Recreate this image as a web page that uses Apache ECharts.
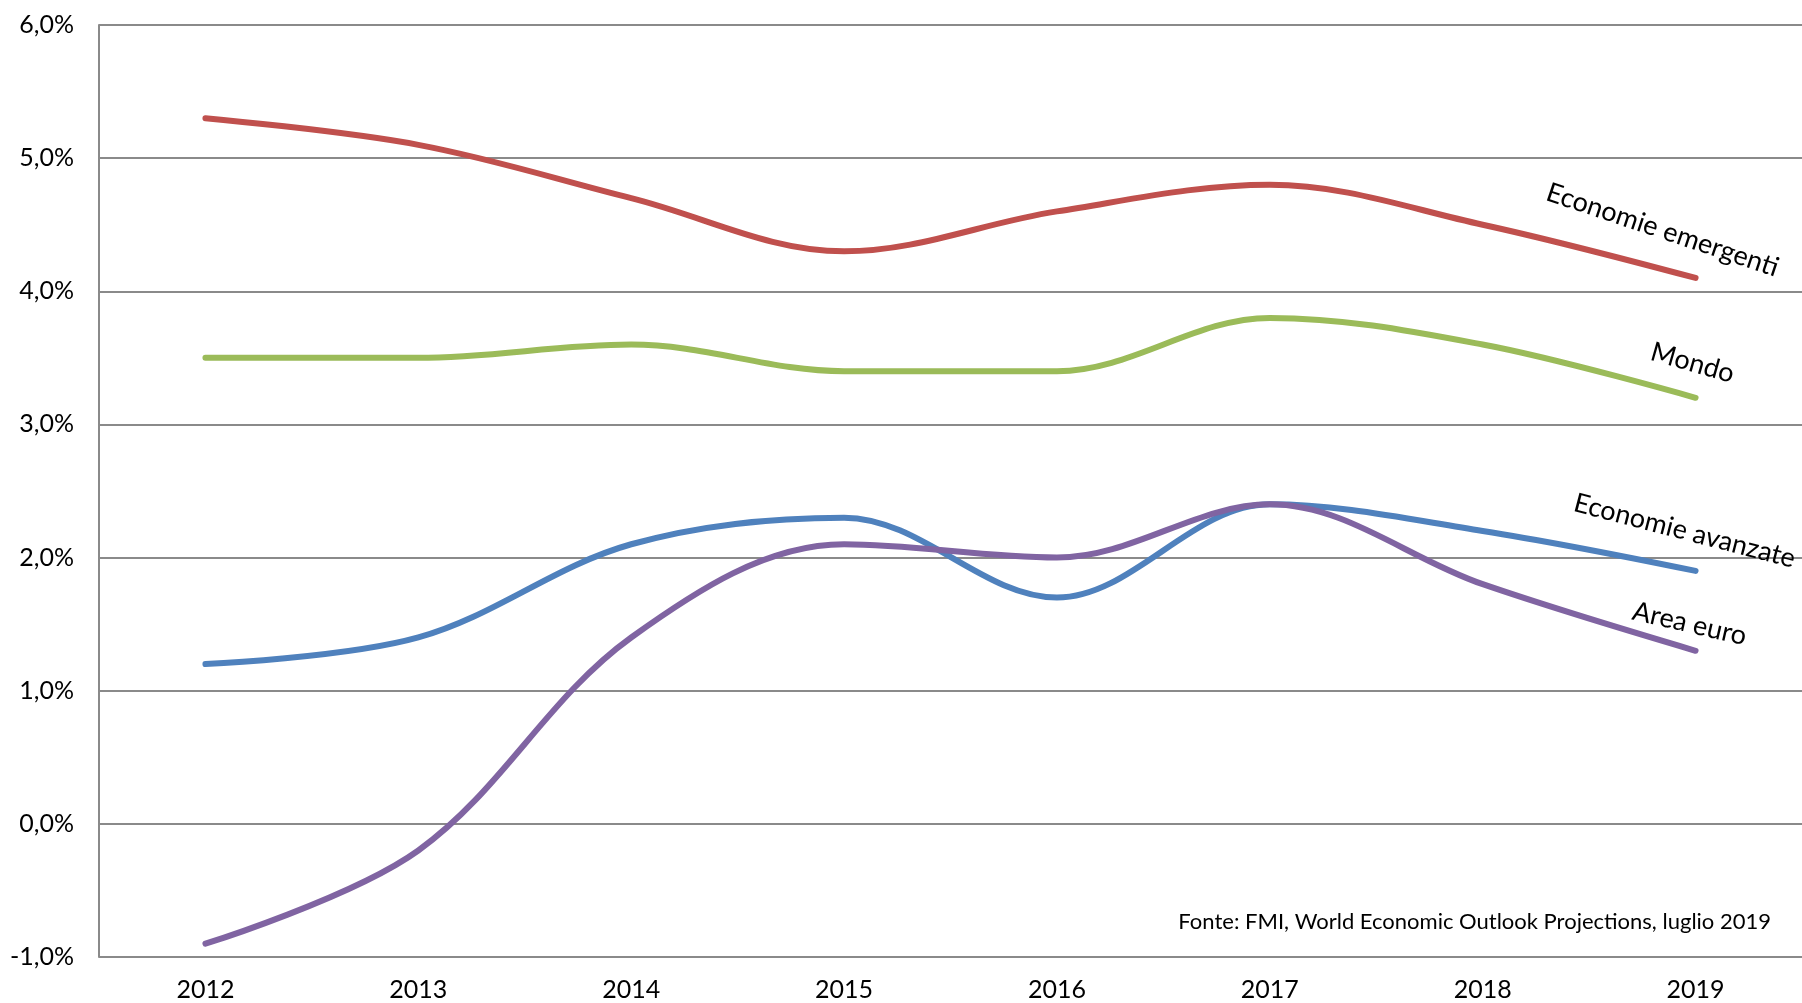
<!DOCTYPE html>
<html>
<head>
<meta charset="utf-8">
<script src="https://cdn.jsdelivr.net/npm/echarts@6/dist/echarts.min.js"></script>
<style>
html,body{margin:0;padding:0;background:#fff;}
#c{width:1802px;height:1003px;}
</style>
</head>
<body>
<div id="c"></div>
<script>
const years = ['2012','2013','2014','2015','2016','2017','2018','2019'];
const emergenti = [5.3, 5.1, 4.7, 4.3, 4.6, 4.8, 4.5, 4.1];
const mondo = [3.5, 3.5, 3.6, 3.4, 3.4, 3.8, 3.6, 3.2];
const avanzate = [1.2, 1.4, 2.1, 2.3, 1.7, 2.4, 2.2, 1.9];
const euro = [-0.9, -0.2, 1.4, 2.1, 2.0, 2.4, 1.8, 1.3];
const seriesNames = ['Economie emergenti', 'Mondo', 'Economie avanzate', 'Area euro'];
const sourceNote = 'Fonte: FMI, World Economic Outlook Projections, luglio 2019';

const FONT = "Lato, sans-serif";
const gridColor = '#8a8a8a';

const chart = echarts.init(document.getElementById('c'));

function line(name, data, color) {
  return {
    name: name, type: 'line', data: data, smooth: 0.35,
    symbol: 'none', lineStyle: {color: color, width: 6, cap: 'round'},
    itemStyle: {color: color}
  };
}

chart.setOption({
  animation: false,
  backgroundColor: '#fff',
  grid: {left: 99, top: 25, width: 1706, height: 932, containLabel: false},
  xAxis: {
    type: 'category', data: years, boundaryGap: true,
    axisLine: {show: true, lineStyle: {color: gridColor, width: 2}},
    axisTick: {show: false},
    axisLabel: {color: '#000', fontFamily: FONT, fontSize: 25, margin: 20}
  },
  yAxis: {
    type: 'value', min: -1, max: 6, interval: 1,
    axisLine: {show: true, lineStyle: {color: gridColor, width: 2}},
    axisTick: {show: false},
    splitLine: {show: true, lineStyle: {color: gridColor, width: 2}},
    axisLabel: {
      color: '#000', fontFamily: FONT, fontSize: 25, margin: 25,
      formatter: v => v.toFixed(1).replace('.', ',') + '%'
    }
  },
  series: [
    line(seriesNames[1], mondo, '#9BBB59'),
    line(seriesNames[2], avanzate, '#4F81BD'),
    line(seriesNames[3], euro, '#8064A2'),
    line(seriesNames[0], emergenti, '#C0504D')
  ]
});

const last = years.length - 1;
const labelSpecs = [
  {text: seriesNames[0], data: emergenti, dx: -33, dy: -48, rot: -18.5},
  {text: seriesNames[1], data: mondo, dx: -3, dy: -35, rot: -16},
  {text: seriesNames[2], data: avanzate, dx: -11, dy: -40, rot: -14.5},
  {text: seriesNames[3], data: euro, dx: -6, dy: -27, rot: -13}
];
const graphics = labelSpecs.map(s => {
  const p = chart.convertToPixel({gridIndex: 0}, [last, s.data[last]]);
  return {
    type: 'text', x: p[0] + s.dx, y: p[1] + s.dy,
    rotation: s.rot * Math.PI / 180,
    style: {text: s.text, fill: '#000', font: "27px " + FONT, align: 'center', verticalAlign: 'middle'}
  };
});
graphics.push({
  type: 'text', x: 1771, y: 922,
  style: {text: sourceNote, fill: '#000', font: "22px " + FONT, align: 'right', verticalAlign: 'middle'}
});
chart.setOption({graphic: graphics});
</script>
</body>
</html>
